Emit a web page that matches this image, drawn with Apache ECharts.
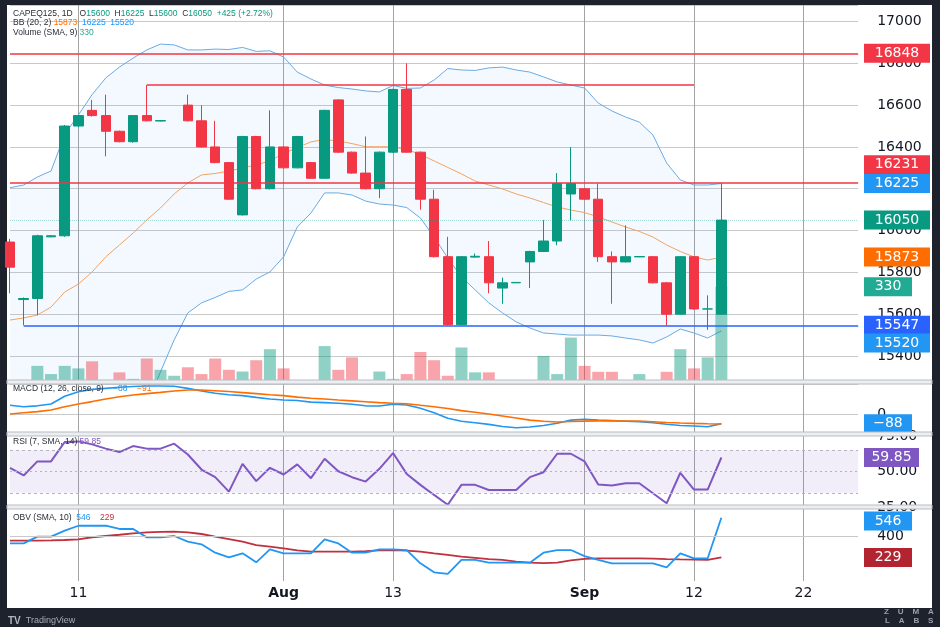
<!DOCTYPE html>
<html>
<head>
<meta charset="utf-8">
<title>CAPEQ125 1D</title>
<script src="https://cdn.jsdelivr.net/npm/echarts@6.0.0/dist/echarts.min.js"></script>
<style>
html,body{margin:0;padding:0;width:940px;height:627px;background:#1e222d;overflow:hidden;}
#panel{position:absolute;left:7px;top:5px;width:925px;height:603px;background:#ffffff;}
#chart{position:absolute;left:0;top:0;width:940px;height:627px;}
</style>
</head>
<body>
<div id="panel"></div>
<div id="chart"></div>
<script>
// ---------------- data ----------------
const dates = ['Jul 3','Jul 5','Jul 8','Jul 9','Jul 10','Jul 11','Jul 12','Jul 15','Jul 16','Jul 17','Jul 18','Jul 19','Jul 22','Jul 23','Jul 24','Jul 25','Jul 26','Jul 29','Jul 30','Jul 31',
  'Aug 1','Aug 2','Aug 5','Aug 6','Aug 7','Aug 8','Aug 9','Aug 12','Aug 13','Aug 14','Aug 15','Aug 16','Aug 19','Aug 20','Aug 21','Aug 22','Aug 23','Aug 26','Aug 27','Aug 28','Aug 29','Aug 30',
  'Sep 2','Sep 3','Sep 4','Sep 5','Sep 6','Sep 9','Sep 10','Sep 11','Sep 12','Sep 13','Sep 16',
  'Sep 17','Sep 18','Sep 19','Sep 20','Sep 21','Sep 22','Sep 23','Sep 24','Sep 25','Sep 26'];

const opens  = [15945,15670,15675,15970,15975,16500,16575,16550,16475,16425,16550,16524,null,16600,16525,16400,16325,16075,16450,16200,
  16400,16300,16325,16250,16625,16375,16275,16200,16375,16675,16375,16150,15875,15550,15873,15875,15725,15750,15850,15900,15950,16175,
  16200,16150,15875,15850,15874,15875,15750,15600,15875,15625,15600];
const closes = [15825,15675,15975,15975,16500,16550,16550,16475,16425,16550,16525,16526,null,16525,16400,16325,16150,16450,16200,16400,
  16300,16450,16250,16575,16375,16275,16200,16375,16675,16375,16150,15875,15550,15875,15877,15750,15750,15752,15900,15950,16225,16225,
  16150,15875,15850,15875,15876,15750,15600,15875,15625,15625,16050];
const lows   = [15700,15547,15595,15968,15970,16495,16545,16355,16422,16420,16522,16522,null,16522,16397,16322,16147,16072,16197,16197,
  16297,16297,16247,16247,16372,16272,16197,16155,16372,16372,16100,15872,15547,15547,15870,15700,15650,15749,15725,15897,15930,16050,
  16147,15850,15650,15847,15873,15747,15547,15597,15622,15525,15600];
const highs  = [15960,15680,15980,15978,16505,16552,16625,16650,16478,16552,16696,16528,null,16650,16600,16525,16328,16453,16453,16575,
  16403,16453,16328,16578,16628,16378,16450,16378,16678,16800,16378,16195,15970,15878,15890,15950,15775,15753,15903,16050,16275,16400,
  16203,16225,15900,16025,15877,15878,15753,15878,15878,15690,16225];
const volumes = [null,null,50,21,50,41,66,null,27,4,76,36,15,45,21,76,36,30,70,109,
  41,null,null,120,36,80,null,30,4,21,99,70,15,115,27,27,null,null,null,85,21,150,
  50,29,29,null,21,null,29,109,41,80,330];

const bbUpper = [16205,16218,16256,16285,16460,16553,16650,16730,16782,16825,16864,16892,16888,16864,16864,16868,16866,16876,16857,16860,
  16830,16758,16725,16696,16684,16677,16668,16663,16694,16680,16682,16720,16775,16768,16766,16778,16782,16768,16758,16735,16711,16696,
  16682,16610,16572,16543,16519,16457,16323,16242,16218,16218,16225];
const bbBasis = [15572,15582,15596,15634,15706,15744,15802,15874,15931,15988,16051,16108,16175,16228,16266,16273,16285,16299,16314,16333,
  16369,16397,16424,16436,16428,16416,16401,16401,16401,16388,16364,16333,16302,16271,16237,16218,16199,16175,16156,16134,16113,16098,
  16086,16065,16041,16017,15996,15969,15931,15900,15874,15859,15873];
const bbLower = [14940,14946,14936,14983,14952,14935,14954,15018,15080,15010,15161,15324,15477,15606,15654,15680,15709,15716,15768,15802,
  15874,16017,16084,16180,16180,16170,16141,16127,16122,16110,16060,15969,15869,15778,15716,15654,15606,15563,15534,15510,15505,15500,
  15500,15500,15496,15486,15477,15462,15491,15529,15510,15486,15520];

const macdLine   = [85,72,80,97,170,213,235,245,255,263,267,267,265,245,220,198,185,176,160,145,
  135,130,115,110,105,95,80,78,95,88,57,15,-38,-65,-80,-95,-115,-127,-120,-105,-85,-55,
  -47,-55,-60,-65,-70,-80,-94,-105,-110,-117,-88];
const macdSignal = [3,15,25,41,72,97,120,145,165,182,195,207,220,229,229,222,215,205,195,185,
  176,162,152,144,135,127,119,110,104,99,85,72,55,35,20,3,-16,-35,-55,-66,-72,-68,
  -64,-62,-62,-63,-64,-70,-77,-82,-86,-89,-91];

const rsi = [52.6,47.2,57.1,57.1,70.8,71.2,69.1,66.1,63.7,67.9,66.1,66.1,69.6,62.0,51.4,46.0,35.8,55.4,43.2,52.6,
  47.9,55.0,45.3,59.0,50.2,46.0,42.9,51.9,63.0,48.3,40.6,33.5,26.6,40.6,40.6,37.0,37.0,37.0,46.0,49.5,62.5,62.5,
  57.1,40.8,40.1,41.7,41.7,34.7,27.6,49.1,37.3,37.3,59.85];
const rsiBands = [65, 50, 35];

const obv    = [341,341,395,395,443,482,482,482,456,456,389,389,400,355,334,267,230,262,190,294,
  262,262,262,373,341,267,267,294,294,288,182,110,97,209,209,187,187,187,187,267,288,288,
  240,209,182,182,182,182,150,262,222,222,546];
const obvSma = [363,363,363,365,368,373,390,400,410,421,429,433,435,429,416,395,375,355,328,315,
  302,285,275,275,275,276,280,285,288,284,275,262,250,235,225,215,209,196,187,184,187,205,
  218,222,222,222,222,220,216,213,211,209,229];

// horizontal levels drawn on the price pane
const fullLevels = [16848, 16231];
const rangeTop = [16696, 10, 50];      // value, from index, to index
const supportLevel = [15547, 1];       // value, from index

// x-axis ticks
const tickIdx  = [5, 20, 28, 42, 50, 58];
const tickText = ['11', 'Aug', '13', 'Sep', '12', '22'];
const monthTicks = ['Aug', 'Sep'];

// ---------------- styling / layout ----------------
const FONT = "'DejaVu Sans', sans-serif";
const LFONT = "'Liberation Sans', Arial, sans-serif";
const UP = '#089981', DN = '#f23645';
const VOL_UP = 'rgba(8,153,129,0.45)', VOL_DN = 'rgba(242,54,69,0.45)';
const BLUE = '#2196f3';
const TXT = '#131722';
const LEFT = 10, STEP = 13.68;
const W = STEP * (dates.length - 1);
const TAG_LEFT = 864;
const last = closes.length - 1;

const isUp = i => opens[i] == null ? true : (closes[i] > opens[i] || (closes[i] === opens[i] && (i === 0 || closes[i] >= closes[i - 1])));

function tag(value, text, color, w, dy) {
  return {
    coord: [dates.length - 1, value],
    symbol: 'rect', symbolSize: [w, 19],
    symbolOffset: [TAG_LEFT - (LEFT + W) + w / 2, dy || 0],
    itemStyle: { color: color },
    label: { show: true, position: 'inside', formatter: text, color: '#ffffff', fontSize: 14, fontFamily: FONT, fontWeight: 'normal' }
  };
}
const fmtNeg = v => (v < 0 ? '\u2212' + Math.abs(v) : String(v));

function xAxisCfg(gridIndex, showLabel) {
  return {
    type: 'category', gridIndex: gridIndex, data: dates, boundaryGap: false,
    axisLine: { show: false }, axisTick: { show: false },
    axisLabel: showLabel ? {
      show: true, interval: (i) => tickIdx.indexOf(i) >= 0, margin: 5,
      color: TXT, fontSize: 14, fontFamily: FONT,
      formatter: (v, i) => { const t = tickText[tickIdx.indexOf(i)] || ''; return monthTicks.indexOf(t) >= 0 ? '{b|' + t + '}' : t; },
      rich: { b: { fontWeight: 'bold', fontSize: 14, fontFamily: FONT, color: TXT } }
    } : { show: false },
    splitLine: { show: true, interval: (i) => tickIdx.indexOf(i) >= 0, lineStyle: { color: '#a3a3a3', width: 1 } }
  };
}
const yLabel = (extra) => Object.assign({ color: TXT, fontSize: 14, fontFamily: FONT, margin: 19, formatter: v => String(v) }, extra || {});

const candleData = opens.map((o, i) => o == null ? ['-', '-', '-', '-'] : [o, closes[i], lows[i], highs[i]]);
const volData = volumes.map((v, i) => v == null ? '-' : { value: v, itemStyle: { color: isUp(i) ? VOL_UP : VOL_DN } });
const bbSpan = bbUpper.map((u, i) => +(u - bbLower[i]).toFixed(2));

const chg = closes[last] - closes[last - 1];
const chgPct = (chg / closes[last - 1] * 100).toFixed(2);
const chgStr = (chg >= 0 ? '+' : '') + chg + ' (' + (chg >= 0 ? '+' : '') + chgPct + '%)';

function rs(color) { return { color: color, fontSize: 8.5, fontFamily: LFONT, fontWeight: 'normal', lineHeight: 10 }; }
const legendRich = { d: rs('#2a2e39'), g: rs(UP), o: rs('#ff6d00'), b: rs(BLUE), t: rs('#22ab94'), p: rs('#7e57c2'), r: rs('#c2303e') };
function legend(top, text) { return { left: 13, top: top, padding: 0, text: text, textStyle: { rich: legendRich, fontSize: 8.5, fontWeight: 'normal', fontFamily: LFONT } }; }

const option = {
  animation: false,
  backgroundColor: 'transparent',
  title: [
    legend(9, '{d|CAPEQ125, 1D}   {d|O}{g|' + opens[last] + '}  {d|H}{g|' + highs[last] + '}  {d|L}{g|' + lows[last] + '}  {d|C}{g|' + closes[last] + '}  {g|' + chgStr + '}'),
    legend(17.7, '{d|BB (20, 2)} {o|' + bbBasis[last] + '}  {b|' + bbUpper[last] + '}  {b|' + bbLower[last] + '}'),
    legend(27.3, '{d|Volume (SMA, 9)} {t|' + volumes[last] + '}'),
    legend(384, '{d|MACD (12, 26, close, 9)}    {b|' + fmtNeg(macdLine[last]) + '}    {o|' + fmtNeg(macdSignal[last]) + '}'),
    legend(437, '{d|RSI (7, SMA, 14)} {p|' + rsi[last].toFixed(2) + '}'),
    legend(513, '{d|OBV (SMA, 10)}  {b|' + obv[last] + '}    {r|' + obvSma[last] + '}'),
    { left: 8, top: 612, padding: 0, text: '{k|TV} {w|TradingView}',
      textStyle: { rich: { k: { color: '#b2b5be', fontSize: 10, fontWeight: 'bold', fontFamily: LFONT }, w: { color: '#a6abb6', fontSize: 9, fontWeight: 'normal', fontFamily: LFONT } } } },
    { left: 884, top: 608, padding: 0, text: 'Z    U    M    A', textStyle: { color: '#9aa0ab', fontSize: 8, fontWeight: 'bold', fontFamily: LFONT } },
    { left: 885, top: 617, padding: 0, text: 'L    A    B    S', textStyle: { color: '#9aa0ab', fontSize: 8, fontWeight: 'bold', fontFamily: LFONT } }
  ],
  grid: [
    { left: LEFT, top: 5, width: W, height: 375, containLabel: false, outerBoundsMode: 'none' },
    { left: LEFT, top: 384, width: W, height: 48, containLabel: false, outerBoundsMode: 'none' },
    { left: LEFT, top: 436, width: W, height: 71, containLabel: false, outerBoundsMode: 'none' },
    { left: LEFT, top: 509, width: W, height: 72, containLabel: false, outerBoundsMode: 'none' }
  ],
  xAxis: [xAxisCfg(0, false), xAxisCfg(1, false), xAxisCfg(2, false), xAxisCfg(3, true)],
  yAxis: [
    { type: 'value', gridIndex: 0, position: 'right', min: 15285.2, max: 17078.9, minInterval: 200, maxInterval: 200,
      axisLine: { show: false }, axisTick: { show: false },
      axisLabel: yLabel({ showMinLabel: false, showMaxLabel: false }),
      splitLine: { lineStyle: { color: '#c9c9c9' } } },
    { type: 'value', gridIndex: 0, min: 0, max: 1326, show: false, splitLine: { show: false } },
    { type: 'value', gridIndex: 1, position: 'right', min: -167, max: 286, minInterval: 500, maxInterval: 500,
      axisLine: { show: false }, axisTick: { show: false },
      axisLabel: yLabel({ showMinLabel: false, showMaxLabel: false, formatter: v => (v === 0 ? '0' : '') }),
      splitLine: { lineStyle: { color: '#c9c9c9' } } },
    { type: 'value', gridIndex: 2, position: 'right', min: 25, max: 75, interval: 25,
      axisLine: { show: false }, axisTick: { show: false },
      axisLabel: yLabel({ showMinLabel: true, showMaxLabel: true, formatter: v => v.toFixed(2) }),
      splitLine: { show: false } },
    { type: 'value', gridIndex: 3, position: 'right', min: 40.9, max: 615.5, minInterval: 400, maxInterval: 400,
      axisLine: { show: false }, axisTick: { show: false },
      axisLabel: yLabel({ showMinLabel: false, showMaxLabel: false }),
      splitLine: { show: false } }
  ],
  series: [
    // Bollinger bands
    { type: 'line', xAxisIndex: 0, yAxisIndex: 0, data: bbLower, stack: 'bb', symbol: 'none', silent: true, z: 1,
      lineStyle: { color: '#6aaae3', width: 1 } },
    { type: 'line', xAxisIndex: 0, yAxisIndex: 0, data: bbSpan, stack: 'bb', symbol: 'none', silent: true, z: 1,
      lineStyle: { color: '#6aaae3', width: 1 }, areaStyle: { color: 'rgba(33,150,243,0.08)' } },
    { type: 'line', xAxisIndex: 0, yAxisIndex: 0, data: bbBasis, symbol: 'none', silent: true, z: 1,
      lineStyle: { color: '#f3a35f', width: 1 } },
    // candles
    { type: 'candlestick', xAxisIndex: 0, yAxisIndex: 0, data: candleData, barWidth: 10, silent: true, z: 2, clip: true,
      itemStyle: { color: UP, color0: DN, borderColor: UP, borderColor0: DN, borderWidth: 1 } },
    // volume
    { type: 'bar', xAxisIndex: 0, yAxisIndex: 1, data: volData, barWidth: 12, silent: true, z: 3 },
    // price levels + price tags
    { type: 'line', xAxisIndex: 0, yAxisIndex: 0, data: [], clip: false, silent: true, z: 10, symbol: 'none',
      markLine: {
        silent: true, animation: false, symbol: ['none', 'none'], label: { show: false },
        data: [
          { yAxis: fullLevels[0], lineStyle: { color: DN, width: 1.5, type: 'solid' } },
          { yAxis: fullLevels[1], lineStyle: { color: DN, width: 1.5, type: 'solid' } },
          [{ coord: [rangeTop[1], rangeTop[0]], lineStyle: { color: DN, width: 1.5, type: 'solid' } }, { coord: [rangeTop[2], rangeTop[0]] }],
          [{ coord: [supportLevel[1], supportLevel[0]], lineStyle: { color: '#2962ff', width: 1.5, type: 'solid' } }, { coord: [dates.length - 1, supportLevel[0]] }],
          { yAxis: closes[last], lineStyle: { color: 'rgba(8,153,129,0.35)', width: 1, type: 'dotted' } }
        ]
      },
      markPoint: {
        silent: true, animation: false,
        data: [
          tag(fullLevels[0], String(fullLevels[0]), DN, 66),
          tag(fullLevels[1], String(fullLevels[1]), DN, 66, -17.5),
          tag(bbUpper[last], String(bbUpper[last]), BLUE, 66),
          tag(closes[last], String(closes[last]), UP, 66),
          tag(bbBasis[last], String(bbBasis[last]), '#ff6d00', 66),
          tag(supportLevel[0], String(supportLevel[0]), '#2962ff', 66),
          tag(bbLower[last], String(bbLower[last]), BLUE, 66, 12)
        ]
      } },
    { type: 'line', xAxisIndex: 0, yAxisIndex: 1, data: [], clip: false, silent: true, z: 10, symbol: 'none',
      markPoint: { silent: true, animation: false, data: [tag(volumes[last], String(volumes[last]), '#22ab94', 48)] } },
    // MACD
    { type: 'line', xAxisIndex: 1, yAxisIndex: 2, data: macdLine, symbol: 'none', silent: true,
      lineStyle: { color: BLUE, width: 1.6 } },
    { type: 'line', xAxisIndex: 1, yAxisIndex: 2, data: macdSignal, symbol: 'none', silent: true,
      lineStyle: { color: '#ff6d00', width: 1.6 } },
    { type: 'line', xAxisIndex: 1, yAxisIndex: 2, data: [], clip: false, silent: true, z: 10, symbol: 'none',
      markPoint: { silent: true, animation: false, data: [tag(macdLine[last], fmtNeg(macdLine[last]), BLUE, 48)] } },
    // RSI
    { type: 'line', xAxisIndex: 2, yAxisIndex: 3, data: rsi, symbol: 'none', silent: true, z: 3,
      lineStyle: { color: '#7e57c2', width: 2 },
      markArea: { silent: true, itemStyle: { color: 'rgba(126,87,194,0.1)' }, data: [[{ yAxis: rsiBands[2] }, { yAxis: rsiBands[0] }]] },
      markLine: { silent: true, animation: false, symbol: ['none', 'none'], label: { show: false },
        data: [
          { yAxis: rsiBands[0], lineStyle: { color: '#b7b2c6', width: 1, type: [3, 3] } },
          { yAxis: rsiBands[1], lineStyle: { color: '#b7b2c6', width: 1, type: [2, 3] } },
          { yAxis: rsiBands[2], lineStyle: { color: '#b7b2c6', width: 1, type: [3, 3] } }
        ] } },
    { type: 'line', xAxisIndex: 2, yAxisIndex: 3, data: [], clip: false, silent: true, z: 10, symbol: 'none',
      markPoint: { silent: true, animation: false, data: [tag(rsi[last], rsi[last].toFixed(2), '#7e57c2', 55)] } },
    // OBV
    { type: 'line', xAxisIndex: 3, yAxisIndex: 4, data: obvSma, symbol: 'none', silent: true,
      lineStyle: { color: '#c2303e', width: 1.8 },
      markLine: { silent: true, animation: false, symbol: ['none', 'none'], label: { show: false },
        data: [{ yAxis: 400, lineStyle: { color: '#c9c9c9', width: 1, type: 'solid' } }] } },
    { type: 'line', xAxisIndex: 3, yAxisIndex: 4, data: obv, symbol: 'none', silent: true,
      lineStyle: { color: BLUE, width: 1.8 } },
    { type: 'line', xAxisIndex: 3, yAxisIndex: 4, data: [], clip: false, silent: true, z: 10, symbol: 'none',
      markPoint: { silent: true, animation: false, data: [
        tag(obv[last], String(obv[last]), BLUE, 48, 3.3),
        tag(obvSma[last], String(obvSma[last]), '#b2242f', 48)
      ] } }
  ],
  graphic: [
    // pane separators
    { type: 'rect', z: 50, silent: true, shape: { x: 7, y: 380, width: 925, height: 4 }, style: { fill: '#eceef1', stroke: '#b8bbc2', lineWidth: 1 } },
    { type: 'rect', z: 50, silent: true, shape: { x: 7, y: 432, width: 925, height: 4 }, style: { fill: '#eceef1', stroke: '#b8bbc2', lineWidth: 1 } },
    { type: 'rect', z: 50, silent: true, shape: { x: 7, y: 505, width: 925, height: 4 }, style: { fill: '#eceef1', stroke: '#b8bbc2', lineWidth: 1 } }
  ]
};

const chart = echarts.init(document.getElementById('chart'), null, { renderer: 'canvas' });
chart.setOption(option);
</script>
</body>
</html>
